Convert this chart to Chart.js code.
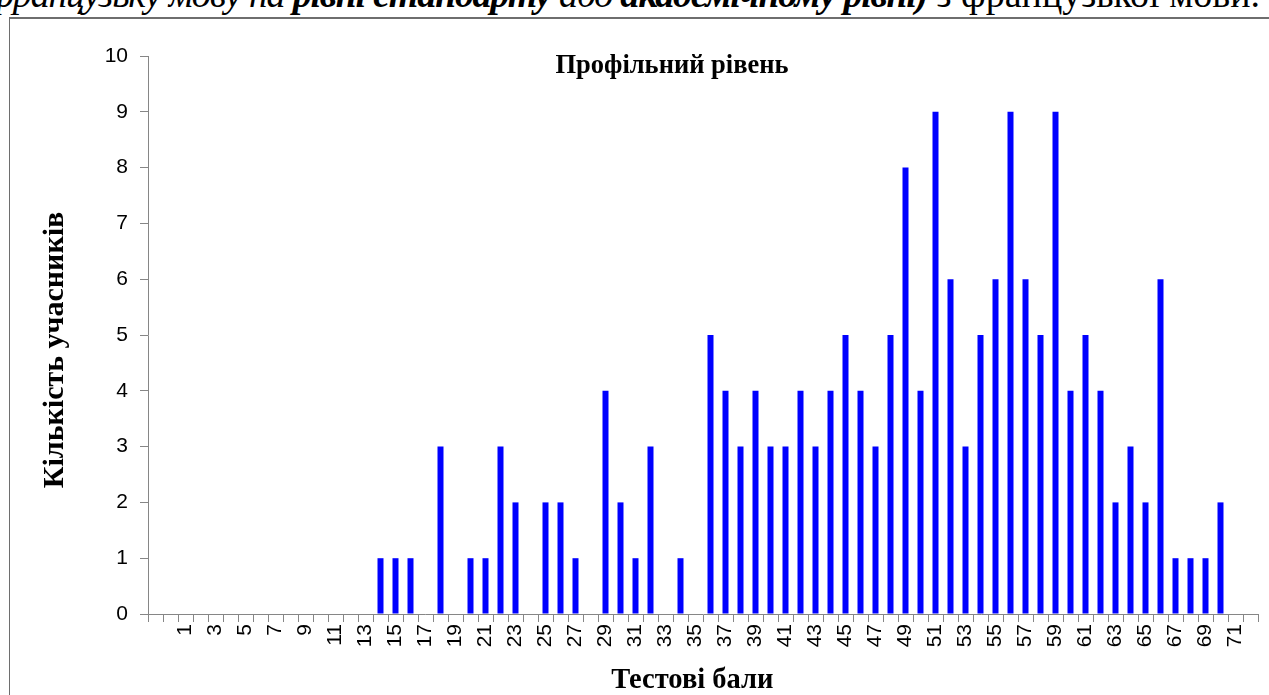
<!DOCTYPE html>
<html lang="uk">
<head>
<meta charset="utf-8">
<title>Профільний рівень</title>
<script src="https://cdn.jsdelivr.net/npm/chart.js@4.4.1/dist/chart.umd.min.js"></script>
<style>
  html, body { margin: 0; padding: 0; background: #fff; }
  body { width: 1269px; height: 695px; position: relative; overflow: hidden; }
  #topline {
    position: absolute; left: -600px; width: 1860px; top: -25px;
    font-family: 'Liberation Serif', 'Times New Roman', serif;
    font-size: 38px; line-height: 38px; text-align: right; white-space: nowrap; color: #000;
  }
  #topline i { letter-spacing: -1.2px; }
  #frame {
    position: absolute; left: 9px; top: 17px; width: 1400px; height: 800px;
    border-left: 1px solid #6e6e6e; border-top: 2px solid #6e6e6e;
  }
  #chartTitle {
    position: absolute; left: 372px; width: 600px; top: 52px; text-align: center;
    font-family: 'Liberation Serif', 'Times New Roman', serif;
    font-weight: bold; font-size: 26.5px; line-height: 25px; color: #000;
  }
  canvas { position: absolute; left: 0; top: 0; }
</style>
</head>
<body>
<div id="topline"><i>французьку мову на <b>рівні стандарту</b> або <b>академічному рівні)</b></i> з французької мови.</div>
<div id="frame"></div>
<canvas id="chart" width="1269" height="695"></canvas>
<div id="chartTitle"></div>
<script>
// Тестові бали (дві перші позиції на осі порожні)
const scores = ['', '',
  '1', '2', '3', '4', '5', '6', '7', '8', '9', '10',
  '11', '12', '13', '14', '15', '16', '17', '18', '19', '20',
  '21', '22', '23', '24', '25', '26', '27', '28', '29', '30',
  '31', '32', '33', '34', '35', '36', '37', '38', '39', '40',
  '41', '42', '43', '44', '45', '46', '47', '48', '49', '50',
  '51', '52', '53', '54', '55', '56', '57', '58', '59', '60',
  '61', '62', '63', '64', '65', '66', '67', '68', '69', '70',
  '71', '72'];

// Кількість учасників для кожного балу
const participants = [0, 0,
  0, 0, 0, 0, 0, 0, 0, 0, 0, 0,
  0, 0, 0, 1, 1, 1, 0, 3, 0, 1,
  1, 3, 2, 0, 2, 2, 1, 0, 4, 2,
  1, 3, 0, 1, 0, 5, 4, 3, 4, 3,
  3, 4, 3, 4, 5, 4, 3, 5, 8, 4,
  9, 6, 3, 5, 6, 9, 6, 5, 9, 4,
  5, 4, 2, 3, 2, 6, 1, 1, 1, 2,
  0, 0];

const yTicks = [0, 1, 2, 3, 4, 5, 6, 7, 8, 9, 10];

const chartTitle = 'Профільний рівень';
const xTitle = 'Тестові бали';
const yTitle = 'Кількість учасників';

const axisGrey = '#868686';
const serif = "'Liberation Serif', 'Times New Roman', serif";
const tickFont = { family: "'Liberation Sans Narrow', 'Liberation Sans', Arial, sans-serif", size: 21 };

document.getElementById('chartTitle').textContent = chartTitle;

const ctx = document.getElementById('chart').getContext('2d');
new Chart(ctx, {
    type: 'bar',
    data: {
        labels: scores,
        datasets: [{
            label: yTitle,
            data: participants,
            backgroundColor: '#0000ff',
            borderWidth: 0,
            barPercentage: 0.4,
            categoryPercentage: 1.0
        }]
    },
    options: {
        responsive: false,
        animation: false,
        devicePixelRatio: 1,
        layout: { padding: { left: 30, right: 11, top: 56, bottom: 0 } },
        plugins: {
            legend: { display: false },
            tooltip: { enabled: false }
        },
        scales: {
            x: {
                offset: true,
                grid: { offset: true, drawOnChartArea: false, drawTicks: true, tickLength: 8, color: axisGrey },
                border: { color: axisGrey, width: 1 },
                ticks: {
                    autoSkip: false,
                    maxRotation: 90,
                    minRotation: 90,
                    padding: 2,
                    color: '#000',
                    font: tickFont,
                    callback: function(value, index) {
                        return index % 2 === 0 ? scores[index] : '';
                    }
                },
                // пробіли в кінці зсувають підпис трохи ліворуч, як в оригіналі
                title: {
                    display: true, text: xTitle + '\u00a0\u00a0\u00a0', color: '#000',
                    font: { family: serif, size: 28.5, weight: 'bold' },
                    padding: { top: 0, bottom: -3 }
                },
                afterFit: function(scale) {
                    scale.height = 81;
                    scale.paddingLeft = 0;
                    scale.paddingRight = 0;
                }
            },
            y: {
                min: 0,
                max: 10,
                grid: { drawOnChartArea: false, drawTicks: true, tickLength: 8, color: axisGrey },
                border: { color: axisGrey, width: 1 },
                ticks: {
                    stepSize: 1,
                    padding: 12,
                    color: '#000',
                    font: tickFont,
                    callback: function(value) {
                        return yTicks.includes(value) ? String(value) : '';
                    }
                },
                title: {
                    display: true, text: yTitle + '\u00a0\u00a0\u00a0\u00a0', color: '#000',
                    font: { family: serif, size: 30, weight: 'bold' },
                    padding: { top: 7, bottom: 0 }
                },
                afterFit: function(scale) { scale.width = 118; }
            }
        }
    }
});
</script>
</body>
</html>
